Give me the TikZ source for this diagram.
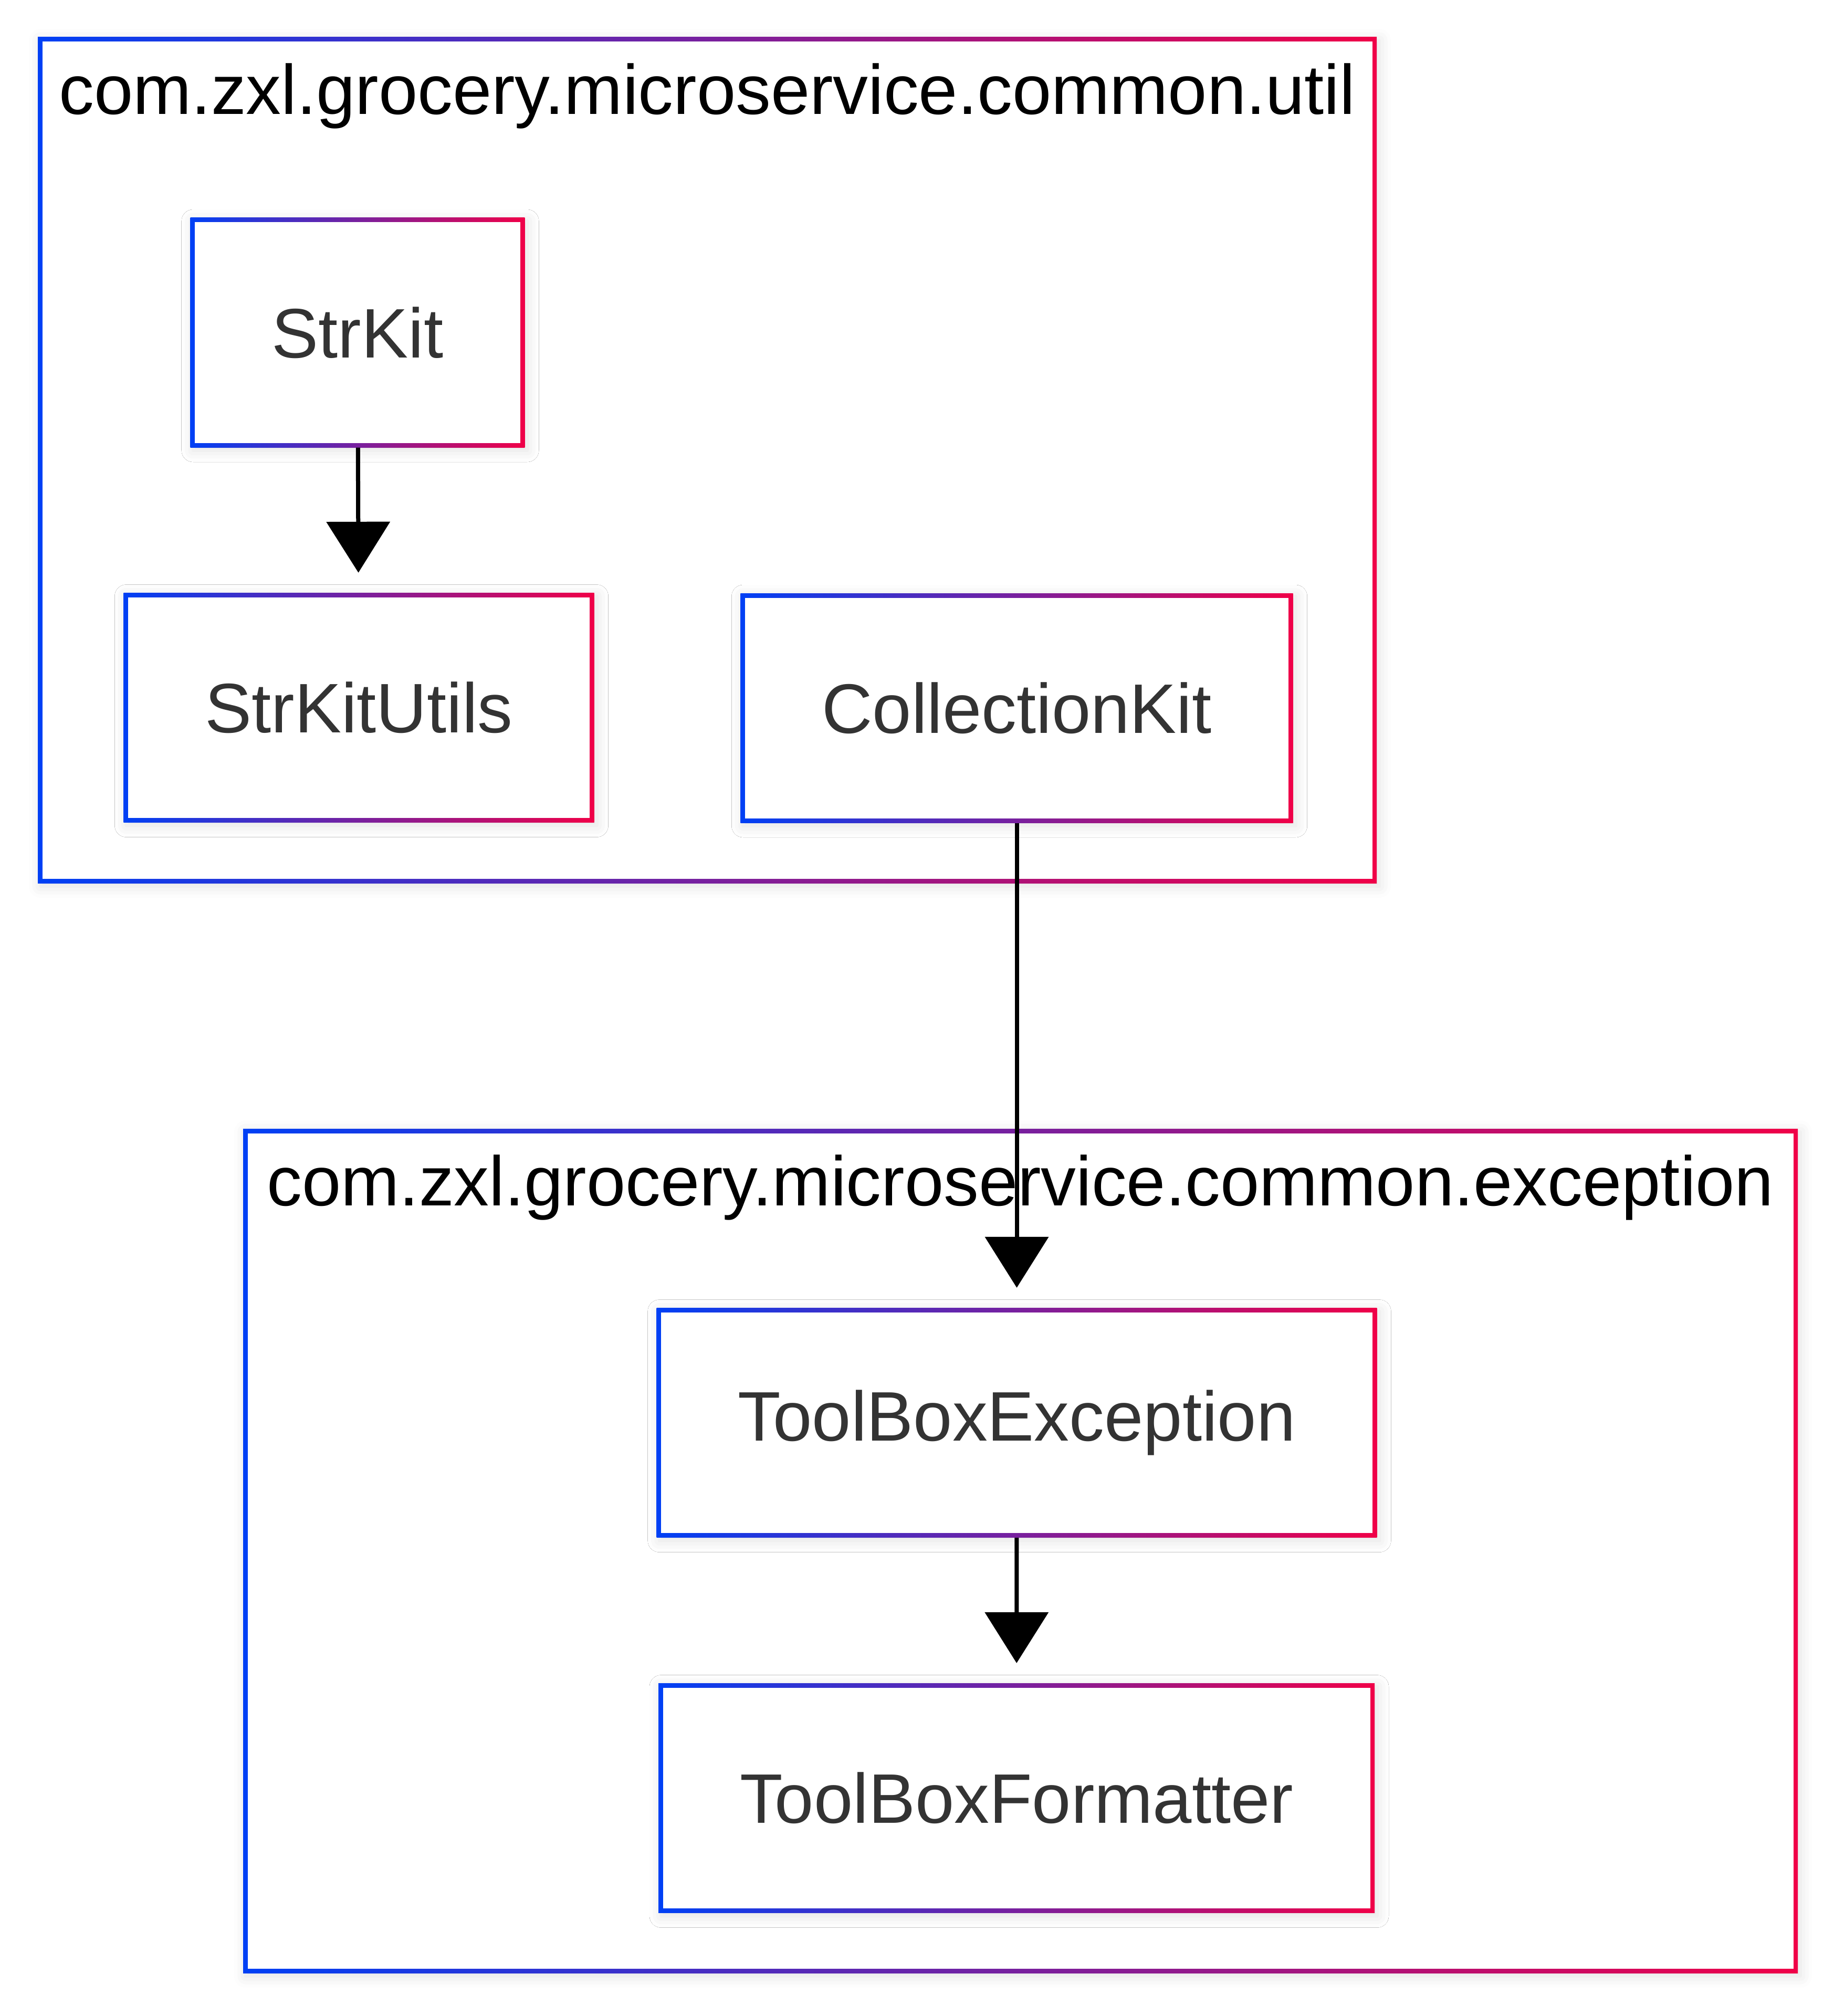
\documentclass[tikz,border=0pt]{standalone}
\usepackage{fontspec}
\setmainfont{Liberation Sans}
\usetikzlibrary{arrows.meta,shadows.blur}
\definecolor{gblue}{RGB}{0,64,245}
\definecolor{gred}{RGB}{240,0,72}
\definecolor{txtgray}{RGB}{51,51,51}
\tikzset{
 gradframe/.style={left color=gblue, right color=gred,
  blur shadow={shadow xshift=0.05cm, shadow yshift=-0.06cm, shadow blur radius=0.22cm, shadow opacity=12},
  path picture={\fill[white] ([shift={(0.085cm,0.085cm)}]path picture bounding box.south west) rectangle ([shift={(-0.085cm,-0.085cm)}]path picture bounding box.north east);}},
 cluster/.style={gradframe, inner sep=0pt},
 pkgtitle/.style={text=black, inner sep=0pt, anchor=base},
 cls/.style={gradframe, text=txtgray, inner xsep=1.55cm, inner ysep=0pt, minimum height=4.37cm},
 edge/.style={->, line width=0.08cm, shorten >=0.38cm}
}
\begin{document}
\begin{tikzpicture}[x=1cm, y=-1cm, font=\fontsize{38}{46}\selectfont, >={Triangle[length=0.97cm, width=1.2cm]}]
 \useasboundingbox (0,0) rectangle (34.92,38.40);
 % packages
 \node[cluster, minimum width=25.50cm, minimum height=16.11cm] (util) at (13.47,8.765) {};
 \node[pkgtitle] (utiltitle) at (13.47,2.18) {com.zxl.grocery.microservice.common.util};
 \node[cluster, minimum width=29.61cm, minimum height=16.08cm] (exception) at (19.435,29.54) {};
 \node[pkgtitle] (exceptiontitle) at (19.435,22.96) {com.zxl.grocery.microservice.common.exception};
 % classes
 \node[cls] (strkit) at (6.81,6.335) {StrKit};
 \node[cls] (strkitutils) at (6.835,13.48) {StrKitUtils};
 \node[cls] (collectionkit) at (19.365,13.485) {CollectionKit};
 \node[cls] (toolboxexception) at (19.365,27.10) {ToolBoxException};
 \node[cls] (toolboxformatter) at (19.36,34.25) {ToolBoxFormatter};
 % dependencies
 \draw[edge] (strkit) -- (strkitutils);
 \draw[edge] (collectionkit) -- (toolboxexception);
 \draw[edge] (toolboxexception) -- (toolboxformatter);
\end{tikzpicture}
\end{document}
